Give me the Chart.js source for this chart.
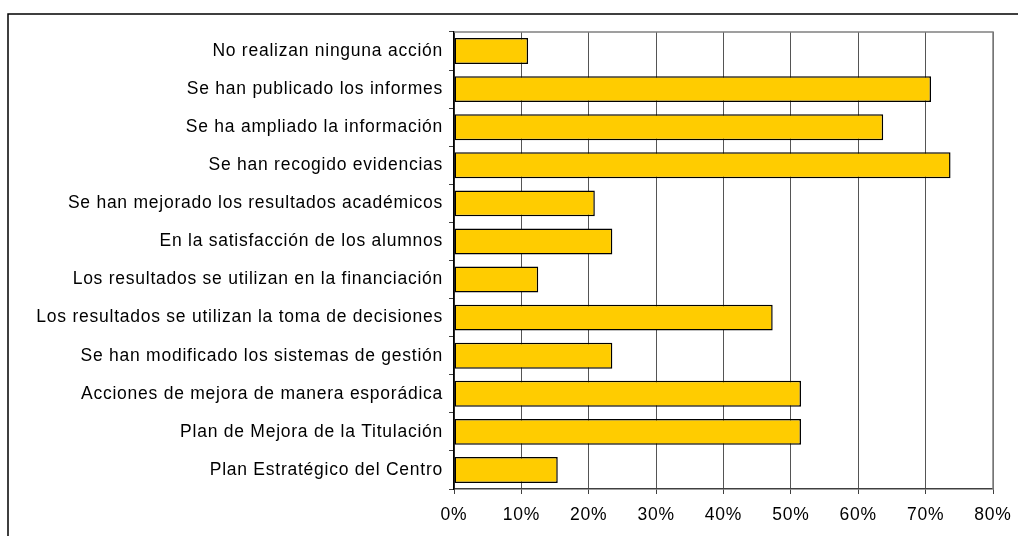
<!DOCTYPE html>
<html>
<head>
<meta charset="utf-8">
<script src="https://cdn.jsdelivr.net/npm/chart.js@4/dist/chart.umd.min.js"></script>
<style>
html,body{margin:0;padding:0;background:#fff;}
#wrap{width:1018px;height:536px;position:relative;}
</style>
</head>
<body>
<div id="wrap"><canvas id="c" width="1018" height="536"></canvas></div>
<script>
const categories = [
  "No realizan ninguna acción",
  "Se han publicado los informes",
  "Se ha ampliado la información",
  "Se han recogido evidencias",
  "Se han mejorado los resultados académicos",
  "En la satisfacción de los alumnos",
  "Los resultados se utilizan en la financiación",
  "Los resultados se utilizan la toma de decisiones",
  "Se han modificado los sistemas de gestión",
  "Acciones de mejora de manera esporádica",
  "Plan de Mejora de la Titulación",
  "Plan Estratégico del Centro"
];
const values = [11.0, 70.8, 63.7, 73.7, 20.9, 23.5, 12.5, 47.3, 23.5, 51.5, 51.5, 15.4];
const xTicks = [0, 10, 20, 30, 40, 50, 60, 70, 80];

const frame = {
  id: 'frame',
  beforeDraw(chart) {
    chart.ctx.letterSpacing = '0.75px';
  },
  afterDraw(chart) {
    const ctx = chart.ctx;
    const a = chart.chartArea;
    ctx.save();
    ctx.strokeStyle = '#808080';
    ctx.lineWidth = 1.5;
    ctx.beginPath();
    ctx.moveTo(a.left, a.top);
    ctx.lineTo(a.right, a.top);
    ctx.lineTo(a.right, a.bottom);
    ctx.stroke();
    ctx.strokeStyle = '#000';
    ctx.lineWidth = 1.5;
    ctx.beginPath();
    ctx.moveTo(1018, 14);
    ctx.lineTo(8, 14);
    ctx.lineTo(8, 536);
    ctx.stroke();
    ctx.restore();
  }
};

new Chart(document.getElementById('c'), {
  type: 'bar',
  data: {
    labels: categories,
    datasets: [{
      data: values,
      backgroundColor: '#FFCC00',
      borderColor: '#000000',
      borderWidth: 1.5,
      borderSkipped: false,
      categoryPercentage: 1.0,
      barPercentage: 0.68
    }]
  },
  options: {
    indexAxis: 'y',
    responsive: false,
    animation: false,
    devicePixelRatio: 1,
    layout: { padding: { top: 32, right: 25, left: 0, bottom: 0 } },
    plugins: { legend: { display: false }, tooltip: { enabled: false } },
    scales: {
      x: {
        min: 0, max: 80,
        afterBuildTicks(scale) { scale.ticks = xTicks.map(v => ({ value: v })); },
        afterFit(scale) { scale.height = 47; scale.paddingRight = 0; scale.paddingLeft = 0; },
        ticks: {
          callback: v => v + '%',
          color: '#000',
          font: { family: 'Liberation Sans', size: 17.5 },
          padding: 11,
          maxRotation: 0
        },
        grid: { color: '#555555', lineWidth: 1, tickLength: 5, tickColor: '#404040' },
        border: { color: '#404040', width: 1.5 }
      },
      y: {
        afterFit(scale) { scale.width = 454; scale.paddingTop = 0; scale.paddingBottom = 0; },
        ticks: {
          color: '#000',
          font: { family: 'Liberation Sans', size: 17.5 },
          padding: 6,
          autoSkip: false
        },
        grid: { offset: true, drawOnChartArea: false, tickLength: 5, color: '#404040', lineWidth: 1 },
        border: { color: '#000', width: 1.5 }
      }
    }
  },
  plugins: [frame]
});
</script>
</body>
</html>
